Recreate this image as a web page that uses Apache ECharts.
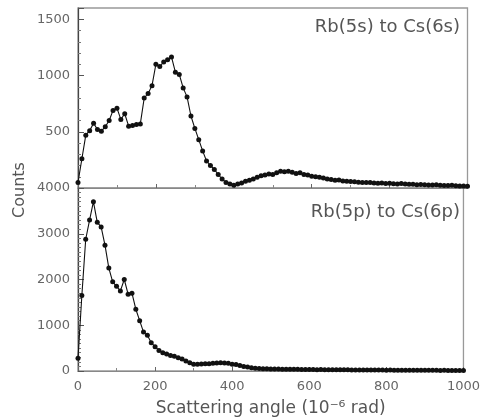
<!DOCTYPE html>
<html>
<head>
<meta charset="utf-8">
<script src="https://cdn.jsdelivr.net/npm/echarts@6/dist/echarts.min.js"></script>
<style>
  html, body { margin: 0; padding: 0; background: #fff; }
  #chart { width: 483px; height: 420px; }
</style>
</head>
<body>
<div id="chart"></div>
<script>
// Scattering angle samples (10^-6 rad)
const angle = [
  0, 10, 20, 30, 40, 50, 60, 70, 80, 90,
  100, 110, 120, 130, 140, 150, 160, 170, 180, 190,
  200, 210, 220, 230, 240, 250, 260, 270, 280, 290,
  300, 310, 320, 330, 340, 350, 360, 370, 380, 390,
  400, 410, 420, 430, 440, 450, 460, 470, 480, 490,
  500, 510, 520, 530, 540, 550, 560, 570, 580, 590,
  600, 610, 620, 630, 640, 650, 660, 670, 680, 690,
  700, 710, 720, 730, 740, 750, 760, 770, 780, 790,
  800, 810, 820, 830, 840, 850, 860, 870, 880, 890,
  900, 910, 920, 930, 940, 950, 960, 970, 980, 990,
  1000
];

// Rb(5s) -> Cs(6s) counts
const countsS = [
  50, 260, 470, 510, 575, 520, 505, 545, 600, 690,
  710, 610, 660, 550, 555, 565, 570, 800, 840, 910,
  1100, 1080, 1120, 1140, 1165, 1030, 1010, 890, 810, 640,
  530, 430, 330, 240, 200, 165, 120, 80, 50, 35,
  25, 35, 45, 60, 70, 80, 95, 110, 115, 125,
  120, 135, 150, 145, 150, 140, 130, 135, 120, 115,
  105, 100, 95, 90, 80, 75, 70, 72, 62, 60,
  58, 55, 52, 50, 48, 50, 45, 42, 44, 40,
  42, 38, 36, 40, 35, 33, 34, 30, 31, 28,
  27, 26, 28, 24, 23, 22, 24, 20, 18, 17,
  15
];

// Rb(5p) -> Cs(6p) counts
const countsP = [
  280, 1650, 2880, 3300, 3700, 3250, 3150, 2750, 2250, 1950,
  1850, 1750, 2000, 1680, 1700, 1350, 1100, 850, 780, 620,
  530, 450, 400, 370, 340, 320, 290, 260, 220, 180,
  150, 150, 155, 160, 160, 170, 175, 180, 175, 170,
  150, 140, 120, 100, 85, 70, 60, 55, 50, 48,
  45, 44, 42, 40, 40, 38, 36, 38, 35, 34,
  33, 32, 30, 31, 29, 28, 27, 28, 26, 25,
  25, 24, 24, 23, 22, 23, 21, 20, 21, 20,
  19, 20, 18, 18, 17, 18, 16, 16, 17, 15,
  15, 14, 15, 14, 13, 14, 13, 12, 12, 12,
  11
];

const xTicks = [0, 200, 400, 600, 800, 1000];
const yTicksTop = [500, 1000, 1500];
const yTicksBottom = [0, 1000, 2000, 3000, 4000];

const FONT = 'DejaVu Sans';
const pairs = (xs, ys) => xs.map((x, i) => [x, ys[i]]);

const chart = echarts.init(document.getElementById('chart'), null, { renderer: 'canvas' });

const baseX = {
  type: 'value', min: 0, max: 1000, interval: 200,
  axisLine: { show: true, lineStyle: { color: '#888', width: 1.2 } },
  axisTick: { show: true, inside: true, length: 4, lineStyle: { color: '#666' } },
  minorTick: { show: true, splitNumber: 2, length: 3, lineStyle: { color: '#888' } },
  splitLine: { show: false }
};
const baseY = {
  type: 'value', min: 0,
  axisLine: { show: true, lineStyle: { color: '#444', width: 1.2 } },
  axisTick: { show: true, inside: true, length: 6, lineStyle: { color: '#555' } },
  minorTick: { show: true, length: 3, lineStyle: { color: '#777' } },
  splitLine: { show: false },
  axisLabel: { color: '#666', fontFamily: FONT, fontSize: 13, margin: 8 }
};

chart.setOption({
  animation: false,
  backgroundColor: '#fff',
  grid: [
    { left: 78, right: 15.5, top: 8, height: 180, show: true, borderColor: '#999', borderWidth: 1.3 },
    { left: 78, right: 15.5, top: 188, height: 183, show: true, borderColor: '#999', borderWidth: 1.3 }
  ],
  xAxis: [
    Object.assign({}, baseX, { gridIndex: 0, axisLabel: { show: false } }),
    Object.assign({}, baseX, {
      gridIndex: 1,
      axisLabel: {
        color: '#666', fontFamily: FONT, fontSize: 13, margin: 9,
        formatter: v => xTicks.includes(v) ? String(v) : ''
      },
      name: 'Scattering angle (10\u207B\u2076 rad)',
      nameLocation: 'middle', nameGap: 29,
      nameTextStyle: { color: '#555', fontFamily: FONT, fontSize: 17 }
    })
  ],
  yAxis: [
    Object.assign({}, baseY, {
      gridIndex: 0, max: 1600, interval: 500,
      minorTick: Object.assign({}, baseY.minorTick, { splitNumber: 5 }),
      axisLabel: Object.assign({}, baseY.axisLabel, {
        showMaxLabel: false,
        formatter: v => yTicksTop.includes(v) ? String(v) : ''
      })
    }),
    Object.assign({}, baseY, {
      gridIndex: 1, max: 4000, interval: 1000,
      minorTick: Object.assign({}, baseY.minorTick, { splitNumber: 10 }),
      axisLabel: Object.assign({}, baseY.axisLabel, {
        formatter: v => yTicksBottom.includes(v) ? String(v) : ''
      })
    })
  ],
  series: [
    {
      type: 'line', xAxisIndex: 0, yAxisIndex: 0,
      data: pairs(angle, countsS),
      symbol: 'circle', symbolSize: 5,
      itemStyle: { color: '#111' },
      lineStyle: { color: '#111', width: 1.1 }
    },
    {
      type: 'line', xAxisIndex: 1, yAxisIndex: 1,
      data: pairs(angle, countsP),
      symbol: 'circle', symbolSize: 5,
      itemStyle: { color: '#111' },
      lineStyle: { color: '#111', width: 1.1 }
    }
  ],
  graphic: [
    {
      type: 'text', x: 460, y: 18,
      style: { text: 'Rb(5s) to Cs(6s)', fill: '#555', fontFamily: FONT, fontSize: 18, align: 'right', verticalAlign: 'top' }
    },
    {
      type: 'text', x: 460, y: 203,
      style: { text: 'Rb(5p) to Cs(6p)', fill: '#555', fontFamily: FONT, fontSize: 18, align: 'right', verticalAlign: 'top' }
    },
    {
      type: 'text', x: 20, y: 190, rotation: Math.PI / 2,
      style: { text: 'Counts', fill: '#555', fontFamily: FONT, fontSize: 16, align: 'center', verticalAlign: 'middle' }
    }
  ]
});
</script>
</body>
</html>
